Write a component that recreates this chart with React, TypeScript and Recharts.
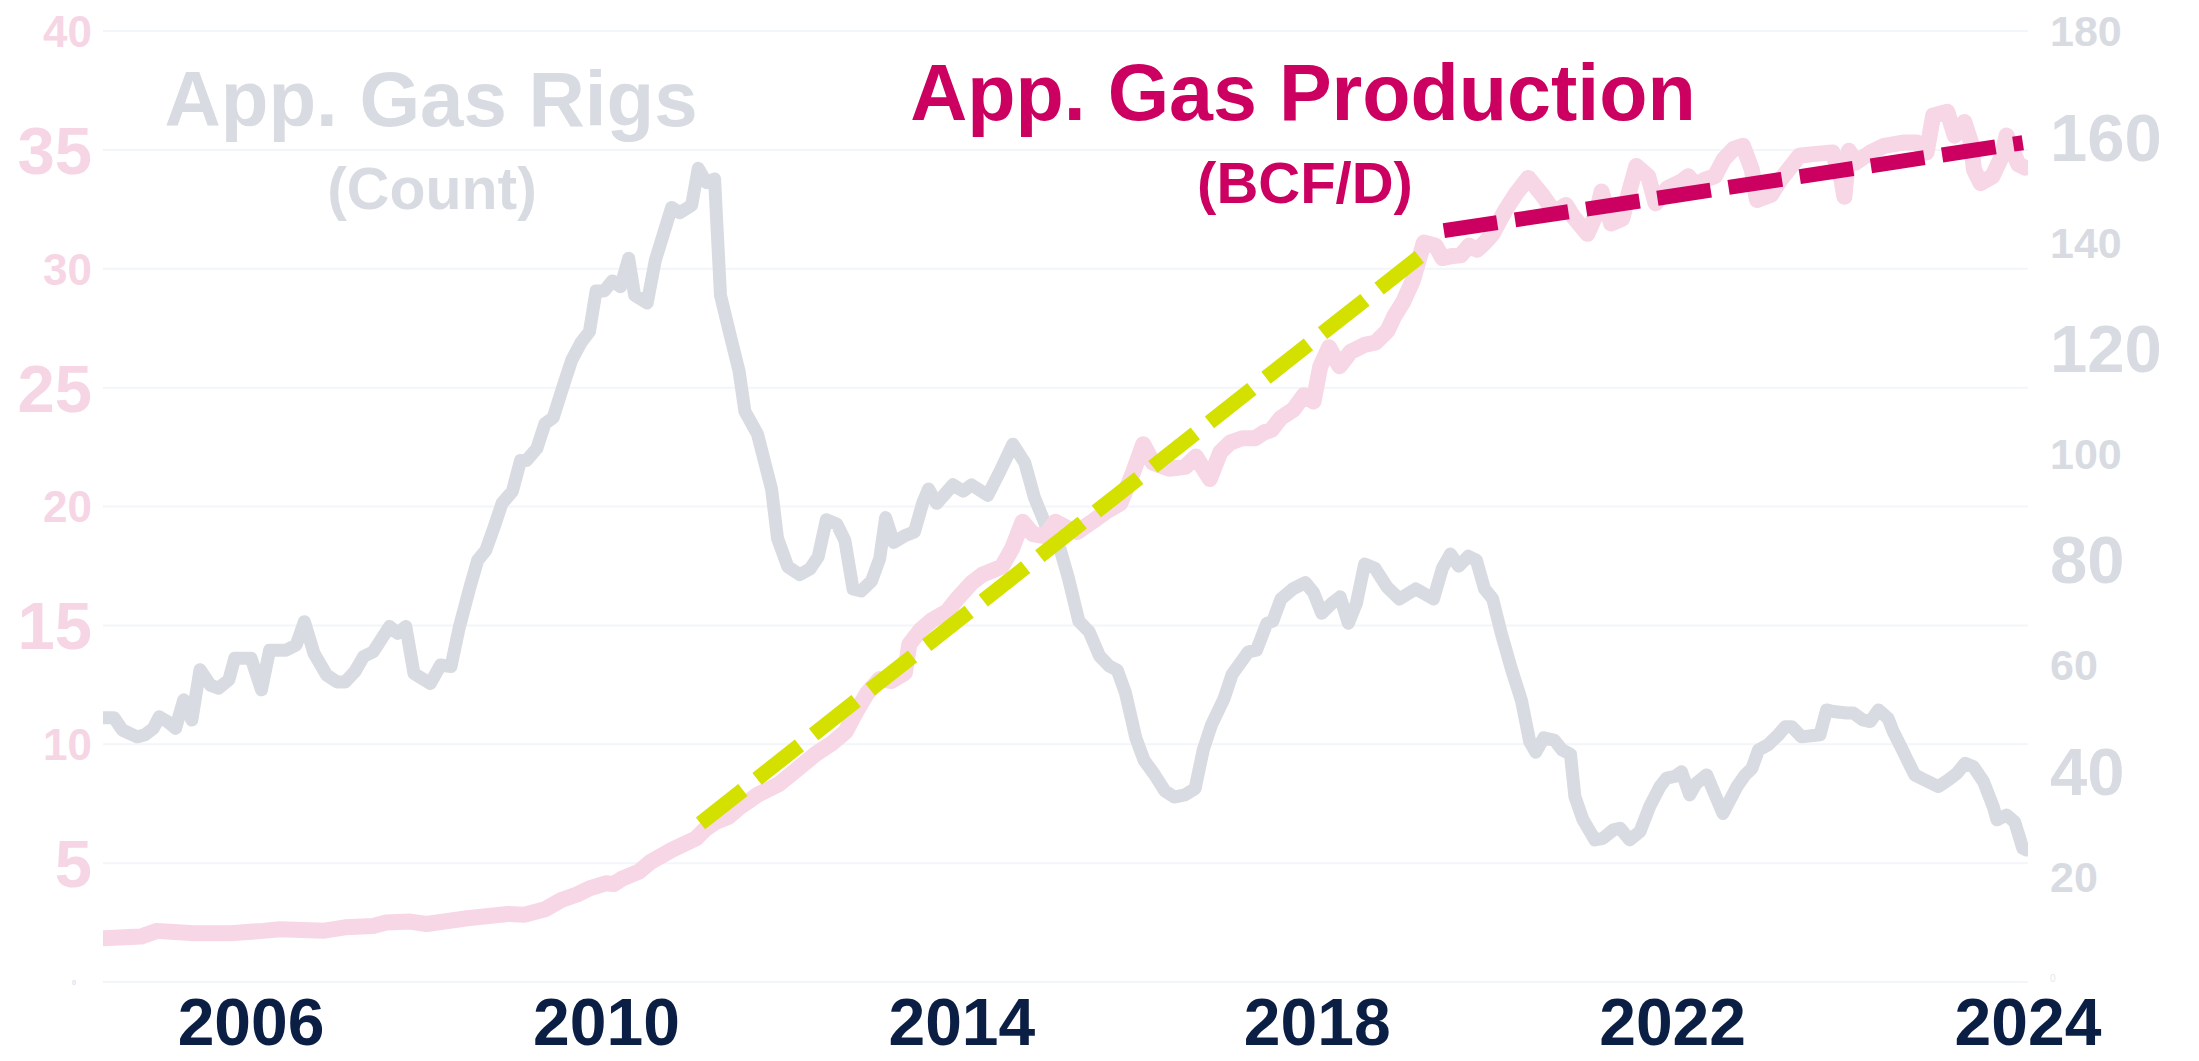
import { LineChart, Line, XAxis, YAxis, CartesianGrid } from 'recharts'

// x is a month index from the first observation; tick labels sit every 48 months
const X_TICKS = [20, 68, 116, 164, 212, 260]
const X_LABELS = ['2006', '2010', '2014', '2018', '2022', '2024']
const LEFT_TICKS = [0, 5, 10, 15, 20, 25, 30, 35, 40]
const RIGHT_TICKS = [0, 20, 40, 60, 80, 100, 120, 140, 160, 180]

// Appalachia gas rigs (count) – right axis
const RIGS: [number, number][] = [
  [0, 50], [1.5, 50], [2.6, 47.7], [4.6, 46.4], [5.7, 46.8], [6.8, 48], [7.6, 50.2], [8.7, 49.3],
  [9.8, 48], [10.9, 53.4], [12, 49.6], [13.1, 59.1], [14.5, 56.2], [15.6, 55.6], [17, 57.2],
  [17.8, 61.3], [20, 61.3], [21.4, 55.3], [22.5, 62.8], [24.7, 62.8], [26.1, 63.8], [27.2, 68.2],
  [28.5, 62.2], [30.2, 58.1], [31.6, 56.8], [32.7, 56.8], [34, 58.7], [35.2, 61.6], [36.5, 62.5],
  [38.7, 67.3], [39.8, 66], [40.9, 67.3], [42, 58.4], [44.2, 56.5], [45.6, 60], [47, 59.7],
  [48.1, 67], [49.5, 74.4], [50.6, 79.8], [51.7, 81.7], [52.8, 86], [53.9, 90.6], [55.3, 92.9],
  [56.4, 98.7], [57.2, 98.7], [58.6, 101], [59.7, 105.7], [60.8, 106.8], [62.2, 113], [63.3, 117.7],
  [64.6, 121.1], [65.7, 123.1], [66.6, 130.8], [67.7, 130.8], [68.8, 132.7], [69.9, 131.6],
  [71, 137], [71.8, 130], [73.5, 128.5], [74.6, 136.6], [76.8, 146.6], [77.9, 145.6], [79.5, 147],
  [80.4, 154], [81.5, 151.3], [82.6, 152], [83.4, 130], [84.8, 121.9], [85.9, 115.7], [86.7, 108],
  [88.4, 103.7], [90.3, 93.3], [91.1, 84], [92.5, 78.6], [94.1, 77.1], [95.5, 78.2], [96.6, 80.5],
  [97.7, 87.5], [99.1, 86.7], [100.2, 83.6], [101.3, 74.4], [102.4, 74], [103.8, 75.9], [104.9, 80.1],
  [105.7, 87.9], [106.8, 83.2], [108.2, 84.4], [109.6, 85.2], [110.7, 90.6], [111.5, 93.3],
  [112.6, 90.6], [114.8, 94.1], [116.2, 92.9], [117.3, 94.1], [119.5, 92.1], [121.2, 96.8],
  [122.9, 101.8], [124.5, 98.3], [125.8, 91.7], [127.5, 85.9], [129.3, 81.8], [130.4, 76.4],
  [131.8, 68.3], [133.2, 66.3], [134.6, 61.7], [135.9, 59.8], [137, 59], [138.1, 54.7],
  [139.5, 46.2], [140.6, 42], [142, 39.3], [143.4, 36.2], [144.7, 35], [146.1, 35.4], [147.5, 36.6],
  [148.6, 43.9], [149.7, 48.6], [151.4, 53.6], [152.5, 58.2], [154.7, 62.5], [155.8, 62.8],
  [157.2, 67.9], [158, 68.3], [159.1, 72.5], [160.7, 74.4], [162.4, 75.6], [163.5, 73.7],
  [164.6, 69.8], [166, 71.7], [167.1, 72.9], [168.2, 67.9], [169.3, 71.7], [170.4, 79.1],
  [171.8, 78.3], [173.4, 74.8], [175.1, 72.5], [177.3, 74.4], [179.7, 72.5], [180.9, 78.3],
  [182, 81], [183.1, 78.7], [184.4, 80.6], [185.5, 79.8], [186.6, 74.4], [187.7, 72.5],
  [188.8, 66.3], [190.2, 59.4], [191.6, 53.2], [192.7, 45.5], [193.5, 43.5], [194.6, 46.2],
  [196, 45.8], [197.1, 43.9], [198.2, 43.1], [198.8, 35.1], [199.9, 30.7], [201.5, 26.9],
  [202.6, 27.2], [204, 28.8], [204.9, 29.1], [206.2, 26.9], [207.6, 28.5], [208.9, 33.2],
  [210.3, 37], [211.2, 38.6], [212.3, 38.9], [213.2, 39.8], [214.3, 35.4], [215.2, 37.6],
  [216.6, 39.2], [218.8, 31.9], [220.7, 37], [221.8, 39.2], [222.7, 40.4], [223.6, 43.9],
  [224.9, 44.9], [226.3, 46.8], [227.2, 48.3], [228.1, 48.3], [229.4, 46.4], [231.9, 46.8],
  [232.8, 51.5], [233.7, 51.2], [235.5, 50.9], [236.4, 50.9], [237.7, 49.6], [238.7, 49.3],
  [239.8, 51.5], [241.1, 49.9], [241.8, 47.4], [242.7, 44.9], [243.6, 42.3], [244.7, 39.2],
  [246.1, 38.2], [247.9, 37], [249.2, 38.2], [250.4, 39.5], [251.5, 41.4], [252.6, 40.8],
  [254, 37.9], [255.3, 33.2], [255.8, 30.7], [257.1, 31.6], [258.2, 30.3], [259.3, 25.3], [259.8, 25],
]

// Appalachia gas production (BCF/D) – left axis
const PRODUCTION: [number, number][] = [
  [0, 1.84], [5.1, 1.91], [7.3, 2.15], [12.3, 2.05], [17.2, 2.05], [21.6, 2.15], [23.9, 2.22],
  [29.9, 2.16], [32.7, 2.3], [36.5, 2.36], [38.2, 2.5], [41.5, 2.54], [43.7, 2.44], [49.2, 2.68],
  [54.7, 2.86], [56.9, 2.83], [59.7, 3.06], [61.9, 3.45], [64.1, 3.69], [65.7, 3.94], [67.9, 4.15],
  [69, 4.12], [70.2, 4.36], [72.4, 4.64], [74, 5.06], [76.8, 5.55], [80.1, 6.04], [81.2, 6.39],
  [82.8, 6.74], [84.5, 6.95], [86, 7.35], [88.5, 7.89], [91.3, 8.32], [93.8, 8.96], [96.3, 9.6],
  [98.4, 10.03], [100.3, 10.53], [101.9, 11.46], [103.2, 12.14], [104.9, 12.74], [106.5, 12.66],
  [108.3, 13], [108.9, 14.2], [110.4, 14.8], [112, 15.23], [114, 15.58], [115.3, 16.09],
  [117.3, 16.78], [118.7, 17.12], [121.4, 17.47], [122.8, 18.24], [124.2, 19.36], [125.6, 18.84],
  [127.2, 18.75], [128.6, 19.36], [130.2, 19.1], [131.6, 18.93], [133.6, 19.36], [135.5, 19.79],
  [137.4, 20.13], [139.1, 21.41], [140.5, 22.62], [141.8, 21.84], [144, 21.59], [146.2, 21.67],
  [147.6, 22.1], [149.5, 21.16], [150.9, 22.28], [152.3, 22.7], [153.9, 22.87], [155.6, 22.87],
  [156.9, 23.13], [157.8, 23.22], [159.1, 23.73], [160.8, 24.08], [162.2, 24.68], [163.5, 24.42],
  [164.4, 25.88], [165.6, 26.7], [167, 25.9], [168.5, 26.5], [170.4, 26.8], [171.9, 26.9],
  [173.5, 27.4], [174.4, 28], [175.6, 28.6], [176.9, 29.5], [178.4, 31.1], [180, 30.97],
  [180.9, 30.45], [182.3, 30.54], [183.4, 30.57], [184.5, 30.97], [185.6, 30.8], [186.5, 31.06],
  [187.7, 31.47], [189.4, 32.46], [190.9, 33.18], [192.5, 33.82], [194.4, 33.1], [196, 32.39],
  [197.6, 32.68], [198.6, 32.18], [200.5, 31.47], [201.7, 32.32], [202.4, 33.25], [203.7, 31.9],
  [205.2, 32.11], [206.2, 33.32], [207.1, 34.32], [208.7, 33.89], [209.7, 32.75], [211.3, 33.39],
  [213.2, 33.67], [214.1, 33.89], [215.1, 33.53], [216.4, 33.75], [217.7, 33.89], [218.9, 34.6],
  [220.2, 35.03], [221.5, 35.17], [222.7, 34.17], [223.4, 32.89], [225.3, 33.11], [226.6, 33.75],
  [229.1, 34.75], [231, 34.82], [233.6, 34.89], [234.8, 33.75], [235.2, 33.03], [235.8, 34.96],
  [236.7, 34.46], [238.7, 34.89], [240.6, 35.17], [243.1, 35.31], [245, 35.31], [246.3, 34.89],
  [247.2, 36.45], [249.1, 36.6], [250.1, 35.6], [251.4, 36.17], [252.3, 35.31], [252.7, 34.17],
  [253.6, 33.6], [255.2, 33.89], [256.5, 34.75], [257.1, 35.6], [258.7, 34.39], [259.6, 34.25],
]

// hand-drawn growth trends (BCF/D)
const SHALE_TREND: [number, number][] = [[80.7, 6.67], [177.8, 30.5]]
const RECENT_TREND: [number, number][] = [[181.1, 31.6], [259.3, 35.3]]

const GRAY = '#d8dbe2'
const PINK = '#f7d6e5'
const GREEN = '#d3e000'
const MAGENTA = '#cc0060'
const NAVY = '#0b1f45'
const FONT = '"Liberation Sans", Arial, sans-serif'

const toRows = (pts: [number, number][]) => pts.map(([m, v]) => ({ m, v }))

const LeftTick = ({ y, payload }: any) => {
  const v = payload.value as number
  const size = v === 0 ? 7 : v % 10 === 5 ? 67 : 44
  return (
    <text x={v === 0 ? 76 : 92} y={y + size * 0.358} textAnchor="end" fontSize={size} fontWeight={700}
      fontFamily={FONT} fill={v === 0 ? '#d6e2f3' : '#f6d5e4'}>{v}</text>
  )
}

const RightTick = ({ y, payload }: any) => {
  const v = payload.value as number
  if (v === 0) {
    // the zero label is barely visible in the original
    return <text x={2050} y={y} fontSize={10} fontFamily={FONT} fill="#e2e7ef">0</text>
  }
  const size = (v / 20) % 2 === 0 ? 67 : 43
  return (
    <text x={2050} y={y + size * 0.358} textAnchor="start" fontSize={size} fontWeight={700}
      fontFamily={FONT} fill={GRAY}>{v}</text>
  )
}

const BottomTick = ({ x, payload }: any) => (
  <text x={x} y={1045} textAnchor="middle" fontSize={66} fontWeight={700} fontFamily={FONT} fill={NAVY}>
    {X_LABELS[X_TICKS.indexOf(payload.value)]}
  </text>
)

export default function App() {
  return (
    <div style={{ position: 'absolute', left: 0, top: 0, width: 2199, height: 1061, background: '#fff' }}>
      <LineChart width={2199} height={1061} margin={{ top: 31, right: 0, bottom: 0, left: 0 }}>
        <CartesianGrid yAxisId="left" vertical={false} stroke="#f2f5fa" strokeWidth={2} />
        <XAxis type="number" dataKey="m" domain={[0, 260]} ticks={X_TICKS} interval={0} height={79}
          axisLine={false} tickLine={false} tick={BottomTick} allowDataOverflow />
        <YAxis yAxisId="left" domain={[0, 40]} ticks={LEFT_TICKS} interval={0} width={103}
          axisLine={false} tickLine={false} tick={LeftTick} />
        <YAxis yAxisId="right" orientation="right" domain={[0, 180]} ticks={RIGHT_TICKS} interval={0} width={171}
          axisLine={false} tickLine={false} tick={RightTick} />
        <Line yAxisId="right" data={toRows(RIGS)} dataKey="v" type="linear" stroke={GRAY} strokeWidth={13}
          strokeLinejoin="round" strokeLinecap="round" dot={false} activeDot={false} isAnimationActive={false} />
        <Line yAxisId="left" data={toRows(PRODUCTION)} dataKey="v" type="linear" stroke={PINK} strokeWidth={16}
          strokeLinejoin="round" strokeLinecap="round" dot={false} activeDot={false} isAnimationActive={false} />
        <Line yAxisId="left" data={toRows(SHALE_TREND)} dataKey="v" type="linear" stroke={GREEN} strokeWidth={15}
          strokeDasharray="54 18" dot={false} activeDot={false} isAnimationActive={false} />
        <Line yAxisId="left" data={toRows(RECENT_TREND)} dataKey="v" type="linear" stroke={MAGENTA} strokeWidth={15}
          strokeDasharray="54 18" dot={false} activeDot={false} isAnimationActive={false} />
      </LineChart>

      {/* series titles */}
      <svg width={2199} height={1061} style={{ position: 'absolute', left: 0, top: 0, pointerEvents: 'none' }}>
        <g fontFamily={FONT} fontWeight={700} textAnchor="middle">
          <text x={431} y={126} fontSize={78} fill={GRAY}>App. Gas Rigs</text>
          <text x={432} y={209} fontSize={59} fill={GRAY}>(Count)</text>
          <text x={1303} y={120} fontSize={79} fill={MAGENTA}>App. Gas Production</text>
          <text x={1305} y={203} fontSize={58} fill={MAGENTA}>(BCF/D)</text>
        </g>
      </svg>
    </div>
  )
}
